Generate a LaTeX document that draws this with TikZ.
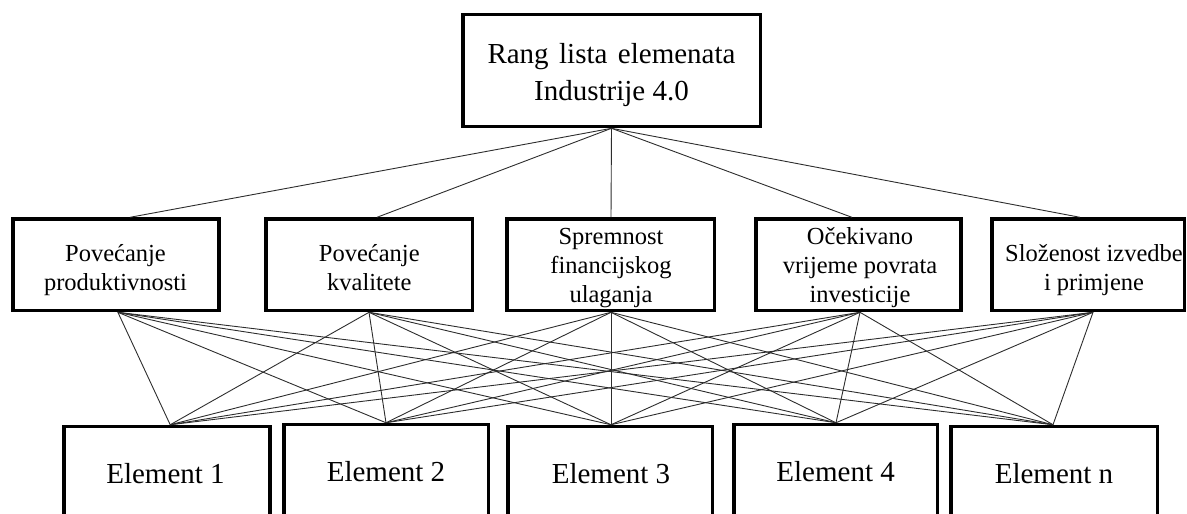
\documentclass[tikz,border=0pt]{standalone}
\usepackage{fontspec}
\setmainfont{Liberation Serif}
\usetikzlibrary{calc}
\definecolor{linkgray}{RGB}{45,45,45}
\begin{document}
\begin{tikzpicture}[x=1pt,y=-1pt,
  boxframe/.style={draw=black, line width=3.5pt, outer sep=1.75pt, inner sep=0pt, rectangle},
  link/.style={draw=linkgray, line width=0.9pt},
  toptext/.style={font=\fontsize{29}{37}\selectfont, align=center, inner sep=0pt},
  midtext/.style={font=\fontsize{24.5}{29}\selectfont, align=center, inner sep=0pt},
  eltext/.style={font=\fontsize{29}{34}\selectfont, inner sep=0pt, anchor=base}]
\useasboundingbox (0,0) rectangle (1187,514);
\clip (0,0) rectangle (1187,514);

% top box
\node[boxframe, minimum width=297.5pt, minimum height=112.1pt] (top) at (611.5,70.5) {};
\node[toptext] (ttop) at (611.5,74.3) {\strut Rang\hspace{0.36em}lista\hspace{0.36em}elemenata\\Industrije 4.0\strut};

% criteria boxes
\node[boxframe, minimum width=206.2pt, minimum height=91.5pt] (b1) at (115.9,264.8) {};
\node[boxframe, minimum width=206.5pt, minimum height=91.5pt] (b2) at (369,264.8) {};
\node[boxframe, minimum width=207.5pt, minimum height=91.5pt] (b3) at (610.5,264.8) {};
\node[boxframe, minimum width=205.2pt, minimum height=91.5pt] (b4) at (858.4,264.8) {};
\node[boxframe, minimum width=192.5pt, minimum height=91.5pt] (b5) at (1088,264.8) {};

\node[midtext] (tb1) at (115.5,269.7) {\strut Povećanje\\produktivnosti\strut};
\node[midtext] (tb2) at (369.3,269.7) {\strut Povećanje\\kvalitete\strut};
\node[midtext] (tb3) at (611,267.6) {\strut Spremnost\\financijskog\\ulaganja\strut};
\node[midtext] (tb4) at (860,267.6) {\strut Očekivano\\vrijeme povrata\\investicije\strut};
\node[midtext] (tb5) at (1094,269.7) {\strut Složenost izvedbe\\i primjene\strut};

% element boxes (cut by the lower edge)
\node[boxframe, minimum width=206pt, minimum height=133pt] (e1) at (167.2,493) {};
\node[boxframe, minimum width=204.5pt, minimum height=135pt] (e2) at (386,492) {};
\node[boxframe, minimum width=204.5pt, minimum height=133pt] (e3) at (610,493) {};
\node[boxframe, minimum width=203.5pt, minimum height=135pt] (e4) at (835.5,492) {};
\node[boxframe, minimum width=206.5pt, minimum height=133pt] (e5) at (1054,493) {};

\node[eltext] (te1) at (165.5,483.3) {Element 1};
\node[eltext] (te2) at (386,481.5) {Element 2};
\node[eltext] (te3) at (611,483.3) {Element 3};
\node[eltext] (te4) at (835.6,481.5) {Element 4};
\node[eltext] (te5) at (1054,483.3) {Element n};

% goal to criteria
\draw[link] (top.south) -- ($(b1.north)+(14.1,0)$);
\draw[link] (top.south) -- ($(b2.north)+(8,0)$);
\draw[link] (top.south) -- ($(b3.north)+(0.5,0)$);
\draw[link] (top.south) -- ($(b4.north)+(-6.5,0)$);
\draw[link] (top.south) -- ($(b5.north)+(-8,0)$);

% criteria to elements
\foreach \b/\bo in {b1/2, b2/0, b3/0.5, b4/1.6, b5/5} {
  \foreach \e/\eo in {e1/3, e2/0, e3/1, e4/0.5, e5/-1} {
    \draw[link] ($(\b.south)+(\bo,0)$) -- ($(\e.north)+(\eo,0)$);
  }
}
\end{tikzpicture}
\end{document}
